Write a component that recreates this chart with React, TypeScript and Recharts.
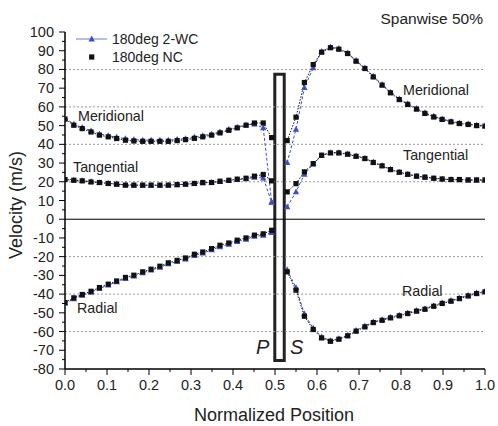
import React from 'react';
import { LineChart, Line, XAxis, YAxis, ReferenceLine, ReferenceArea } from 'recharts';

// sample positions on the pressure side (left of the blade) and suction side (right)
const leftX = [0, 0.021, 0.041, 0.062, 0.082, 0.103, 0.123, 0.144, 0.164, 0.185, 0.205, 0.226, 0.246, 0.267, 0.287, 0.308, 0.328, 0.349, 0.369, 0.39, 0.41, 0.431, 0.451, 0.472, 0.492];
const rightX = [0.529, 0.55, 0.57, 0.591, 0.611, 0.632, 0.652, 0.673, 0.693, 0.714, 0.734, 0.755, 0.775, 0.796, 0.816, 0.837, 0.857, 0.878, 0.898, 0.919, 0.939, 0.96, 0.98, 1.0];

// 180deg NC
const meridionalNcLeft = [53.5, 50.2, 48.4, 46.6, 44.9, 44.0, 43.1, 42.2, 41.8, 41.6, 41.6, 41.6, 41.6, 42.0, 42.5, 43.2, 44.0, 44.9, 46.1, 47.5, 48.8, 50.2, 51.4, 51.4, 43.6];
const meridionalNcRight = [42.0, 54.5, 73.0, 82.6, 89.2, 91.6, 90.8, 88.5, 84.4, 80.5, 76.0, 71.6, 67.5, 63.9, 61.3, 58.8, 56.5, 54.6, 53.3, 52.0, 51.1, 50.6, 50.0, 49.7];
const tangentialNcLeft = [21.2, 20.8, 20.5, 19.9, 19.6, 19.1, 18.7, 18.2, 18.2, 18.2, 18.2, 18.2, 18.2, 18.5, 18.7, 19.1, 19.6, 19.6, 20.3, 20.8, 21.4, 21.9, 23.0, 23.9, 20.5];
const tangentialNcRight = [14.6, 19.0, 25.3, 29.7, 34.2, 35.4, 35.4, 34.7, 33.6, 32.4, 30.3, 28.5, 26.5, 25.1, 24.0, 23.0, 22.5, 21.9, 21.5, 21.2, 21.2, 21.0, 21.0, 21.0];
const radialNcLeft = [-44.5, -42.0, -40.2, -38.5, -36.5, -34.7, -33.0, -31.1, -29.9, -28.1, -26.7, -25.1, -23.3, -22.0, -20.7, -18.7, -17.5, -15.7, -13.9, -12.7, -11.2, -10.0, -8.5, -7.8, -5.9];
const radialNcRight = [-28.1, -37.9, -51.8, -58.9, -63.4, -65.2, -64.1, -62.3, -59.8, -57.5, -55.2, -54.0, -52.7, -51.6, -50.4, -49.1, -48.1, -46.5, -45.0, -43.8, -42.4, -41.0, -39.7, -38.8];

// 180deg 2-WC
const meridional2wcLeft = [54.0, 50.8, 49.0, 47.2, 45.6, 44.6, 43.8, 43.0, 42.5, 42.3, 42.2, 42.2, 42.2, 42.6, 43.1, 43.8, 44.6, 45.5, 46.7, 48.0, 49.2, 50.4, 50.8, 48.8, 9.2];
const meridional2wcRight = [30.2, 48.0, 70.3, 80.8, 89.6, 92.0, 91.2, 88.8, 84.8, 80.8, 76.4, 72.0, 67.9, 64.3, 61.7, 59.2, 56.9, 55.0, 53.6, 52.3, 51.4, 50.9, 50.3, 50.0];
const tangential2wcLeft = [21.5, 21.0, 20.6, 20.1, 19.6, 19.2, 18.8, 18.4, 18.2, 18.1, 18.1, 18.1, 18.2, 18.4, 18.7, 19.0, 19.4, 19.7, 20.1, 20.6, 21.1, 21.6, 22.4, 22.0, 9.0];
const tangential2wcRight = [6.6, 14.6, 24.0, 29.4, 34.0, 35.6, 35.6, 34.9, 33.8, 32.6, 30.5, 28.6, 26.7, 25.2, 24.0, 23.0, 22.4, 21.8, 21.4, 21.1, 21.0, 20.9, 20.8, 20.8];
const radial2wcLeft = [-45.0, -42.5, -40.7, -39.0, -37.0, -35.2, -33.5, -31.7, -30.4, -28.7, -27.2, -25.7, -23.9, -22.6, -21.3, -19.4, -18.1, -16.4, -14.7, -13.4, -11.9, -10.7, -9.2, -8.6, -7.2];
const radial2wcRight = [-27.0, -36.5, -50.6, -58.2, -62.9, -64.8, -63.8, -61.9, -59.4, -57.0, -54.8, -53.6, -52.3, -51.2, -50.0, -48.7, -47.7, -46.1, -44.6, -43.4, -42.0, -40.6, -39.3, -38.4];

const xMajorTicks = [0, 0.1, 0.2, 0.3, 0.4, 0.5, 0.6, 0.7, 0.8, 0.9, 1.0];
const yMajorTicks = [-80, -70, -60, -50, -40, -30, -20, -10, 0, 10, 20, 30, 40, 50, 60, 70, 80, 90, 100];
const gridLevels = [80, 60, 40, 20, -20, -40, -60];

// minor ticks halfway between the labelled ones
const withMinor = (major: number[]) => {
    const out: number[] = [];
    major.forEach((v, i) => {
        out.push(v);
        if (i < major.length - 1) out.push((v + major[i + 1]) / 2);
    });
    return out;
};
const xTicks = withMinor(xMajorTicks);
const yTicks = withMinor(yMajorTicks);

const FONT = '"Liberation Sans", Arial, Helvetica, sans-serif';
const BLUE = '#3d4fc4';
const BLACK = '#111';

// left and right runs joined by a null so the line breaks across the blade
const joinSides = (left: number[], right: number[]) => [
    ...leftX.map((x, i) => ({ x, v: left[i] })),
    { x: 0.51, v: null },
    ...rightX.map((x, i) => ({ x, v: right[i] })),
];

const ncSeries = [
    joinSides(meridionalNcLeft, meridionalNcRight),
    joinSides(tangentialNcLeft, tangentialNcRight),
    joinSides(radialNcLeft, radialNcRight),
];
const wcSeries = [
    joinSides(meridional2wcLeft, meridional2wcRight),
    joinSides(tangential2wcLeft, tangential2wcRight),
    joinSides(radial2wcLeft, radial2wcRight),
];

const isMajor = (v: number, step: number) => Math.abs(v / step - Math.round(v / step)) < 1e-6;

const SquareDot = (p: any) => {
    if (p.cx == null || p.cy == null || p.payload?.v == null) return <g key={p.index} />;
    return <rect key={p.index} x={p.cx - 2.6} y={p.cy - 2.6} width={5.2} height={5.2} fill={BLACK} />;
};

const TriangleDot = (p: any) => {
    if (p.cx == null || p.cy == null || p.payload?.v == null) return <g key={p.index} />;
    const { cx, cy } = p;
    return <polygon key={p.index} points={`${cx},${cy - 3.4} ${cx - 3.2},${cy + 2.4} ${cx + 3.2},${cy + 2.4}`} fill={BLUE} />;
};

const XTick = (p: any) => {
    const { x, y, payload } = p;
    const major = isMajor(payload.value, 0.1);
    return (
        <g>
            <line x1={x} x2={x} y1={y} y2={y + (major ? 6 : 3)} stroke="#000" strokeWidth={1} />
            {major && (
                <text x={x} y={y + 21} textAnchor="middle" fontSize={14.5} fontFamily={FONT} fill="#222">
                    {payload.value.toFixed(1)}
                </text>
            )}
        </g>
    );
};

const YTick = (p: any) => {
    const { x, y, payload } = p;
    const major = isMajor(payload.value, 10);
    return (
        <g>
            <line x1={x} x2={x - (major ? 6 : 3)} y1={y} y2={y} stroke="#000" strokeWidth={1} />
            {major && (
                <text x={x - 11} y={y + 5} textAnchor="end" fontSize={14.5} fontFamily={FONT} fill="#222">
                    {payload.value}
                </text>
            )}
        </g>
    );
};

export default function App() {
    return (
        <div style={{ position: 'absolute', left: 0, top: 0, width: 498, height: 426, background: '#fff', fontFamily: FONT }}>
            <LineChart width={498} height={426} margin={{ top: 32, right: 13, bottom: 0, left: 0 }}>
                <XAxis
                    type="number"
                    dataKey="x"
                    domain={[0, 1]}
                    ticks={xTicks}
                    interval={0}
                    tickSize={0}
                    tickMargin={0}
                    tick={XTick}
                    height={57}
                    axisLine={{ stroke: '#000', strokeWidth: 1.5 }}
                    allowDataOverflow
                />
                <YAxis
                    type="number"
                    domain={[-80, 100]}
                    ticks={yTicks}
                    interval={0}
                    tickSize={0}
                    tickMargin={0}
                    tick={YTick}
                    width={65}
                    axisLine={{ stroke: '#000', strokeWidth: 1.5 }}
                    allowDataOverflow
                />

                {gridLevels.map(g => (
                    <ReferenceLine key={g} y={g} stroke="#9a9a9a" strokeDasharray="2 2" strokeWidth={1} />
                ))}
                <ReferenceLine y={0} stroke="#000" strokeWidth={1} />

                {wcSeries.map((d, i) => (
                    <Line
                        key={`wc-${i}`}
                        data={d}
                        dataKey="v"
                        type="linear"
                        stroke={BLUE}
                        strokeWidth={1}
                        strokeDasharray="3 2"
                        dot={TriangleDot}
                        activeDot={false}
                        connectNulls={false}
                        isAnimationActive={false}
                    />
                ))}
                {ncSeries.map((d, i) => (
                    <Line
                        key={`nc-${i}`}
                        data={d}
                        dataKey="v"
                        type="linear"
                        stroke={BLACK}
                        strokeWidth={1}
                        strokeDasharray="1.5 1.5"
                        dot={SquareDot}
                        activeDot={false}
                        connectNulls={false}
                        isAnimationActive={false}
                    />
                ))}

                {/* blade section between pressure and suction side */}
                <ReferenceArea x1={0.4995} x2={0.522} y1={-75.4} y2={77.4} fill="#fff" fillOpacity={1} stroke="#222" strokeWidth={3} />
            </LineChart>

            <svg width={498} height={426} style={{ position: 'absolute', left: 0, top: 0, pointerEvents: 'none' }} fontFamily={FONT}>
                {/* legend */}
                <line x1={76} x2={107} y1={39} y2={39} stroke="#6f7bd8" strokeWidth={1} />
                <polygon points="91.7,35.6 88.5,41.4 94.9,41.4" fill={BLUE} />
                <text x={112} y={44} fontSize={14} fill="#222">180deg 2-WC</text>
                <rect x={89.1} y={54.4} width={5.2} height={5.2} fill={BLACK} />
                <text x={112} y={62} fontSize={14} fill="#222">180deg NC</text>

                <text x={483} y={24} fontSize={15.5} textAnchor="end" fill="#222">Spanwise 50%</text>

                <text x={78} y={121} fontSize={14.3} fill="#222">Meridional</text>
                <text x={73} y={172} fontSize={14.3} fill="#222">Tangential</text>
                <text x={77} y={313} fontSize={14.3} fill="#222">Radial</text>
                <text x={403} y={95} fontSize={14.3} fill="#222">Meridional</text>
                <text x={403} y={160} fontSize={14.3} fill="#222">Tangential</text>
                <text x={402} y={296} fontSize={14.3} fill="#222">Radial</text>

                <text x={256} y={354} fontSize={20} fontStyle="italic" fill="#222">P</text>
                <text x={290} y={354} fontSize={20} fontStyle="italic" fill="#222">S</text>

                <text x={274} y={421} fontSize={18} textAnchor="middle" fill="#222">Normalized Position</text>
                <text transform="translate(22,205) rotate(-90)" fontSize={18} textAnchor="middle" fill="#222">Velocity (m/s)</text>
            </svg>
        </div>
    );
}
